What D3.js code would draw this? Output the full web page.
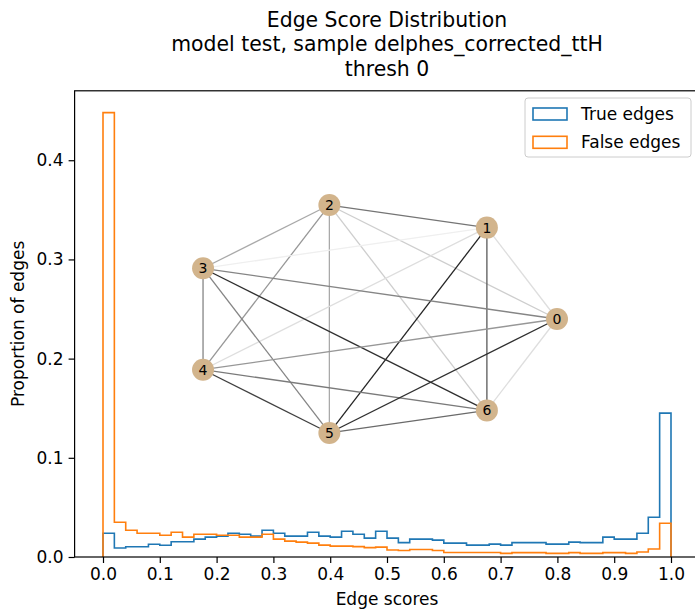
<!DOCTYPE html>
<html>
<head>
<meta charset="utf-8">
<script src="https://cdn.jsdelivr.net/npm/d3@7"></script>
<style>
  html, body { margin: 0; padding: 0; background: #fff; }
  svg { display: block; font-family: "DejaVu Sans", sans-serif; }
</style>
</head>
<body>
<svg id="chart" width="695" height="609"></svg>
<script>
// ---------------- data ----------------
const titleLines = ["Edge Score Distribution", "model test, sample delphes_corrected_ttH", "thresh 0"];
const xLabel = "Edge scores";
const yLabel = "Proportion of edges";
const seriesNames = ["True edges", "False edges"];
const seriesColors = ["#1f77b4", "#ff7f0e"];
const xTicks = [0.0, 0.1, 0.2, 0.3, 0.4, 0.5, 0.6, 0.7, 0.8, 0.9, 1.0];
const yTicks = [0.0, 0.1, 0.2, 0.3, 0.4];
const binCount = 50;

const trueEdges = [
  0.024, 0.009, 0.0104, 0.0104, 0.0128, 0.0118, 0.0154, 0.0154, 0.018, 0.020,
  0.021, 0.024, 0.023, 0.021, 0.027, 0.024, 0.021, 0.021, 0.025, 0.021,
  0.020, 0.026, 0.023, 0.019, 0.026, 0.019, 0.0145, 0.018, 0.018, 0.017,
  0.014, 0.014, 0.012, 0.012, 0.013, 0.012, 0.0145, 0.0145, 0.0145, 0.013,
  0.013, 0.015, 0.0145, 0.0145, 0.020, 0.018, 0.018, 0.024, 0.040, 0.145
];
const falseEdges = [
  0.448, 0.035, 0.027, 0.024, 0.024, 0.022, 0.025, 0.020, 0.023, 0.023,
  0.022, 0.022, 0.020, 0.020, 0.023, 0.018, 0.016, 0.015, 0.014, 0.012,
  0.011, 0.011, 0.0105, 0.0095, 0.010, 0.007, 0.0065, 0.0075, 0.0075, 0.0065,
  0.0045, 0.0045, 0.0045, 0.0045, 0.0045, 0.0037, 0.0044, 0.0044, 0.0044, 0.0037,
  0.0037, 0.0044, 0.0037, 0.0037, 0.0044, 0.0044, 0.0037, 0.005, 0.008, 0.034
];

// example graph (circular layout, complete graph on 7 nodes)
const nodeIds = [0, 1, 2, 3, 4, 5, 6];
const edgeSource = [2, 2, 2, 2, 2, 2, 1, 1, 1, 1, 1, 3, 3, 3, 3, 4, 4, 4, 5, 5, 0];
const edgeTarget = [1, 3, 4, 5, 6, 0, 3, 4, 5, 6, 0, 0, 6, 5, 4, 0, 6, 5, 0, 6, 6];
const edgeScore  = [0.62, 0.44, 0.5, 0.44, 0.3, 0.3, 0.12, 0.22, 0.88, 0.72, 0.22,
                    0.56, 0.85, 0.56, 0.56, 0.5, 0.6, 0.8, 0.85, 0.66, 0.22];

// ---------------- layout ----------------
const svg = d3.select("#chart");
const W = 695, H = 609;
const plot = { left: 74.6, right: 699.4, top: 90.8, bottom: 557 };
const FONT = 17;

const x = d3.scaleLinear().domain([-0.05, 1.05]).range([plot.left, plot.right]);
const y = d3.scaleLinear().domain([0, 0.47]).range([plot.bottom, plot.top]);

// ---------------- histograms (step) ----------------
function stepPoints(vals) {
  const pts = [[0, 0]];
  vals.forEach((v, i) => {
    const x0 = i / binCount, x1 = (i + 1) / binCount;
    pts.push([x0, v]);
    pts.push([x1, v]);
  });
  pts.push([1, 0]);
  return pts;
}
const line = d3.line().x(d => x(d[0])).y(d => y(d[1]));
[trueEdges, falseEdges].forEach((vals, k) => {
  svg.append("path")
    .attr("d", line(stepPoints(vals)))
    .attr("fill", "none")
    .attr("stroke", seriesColors[k])
    .attr("stroke-width", 1.6)
    .attr("stroke-linejoin", "miter");
});

// ---------------- axes ----------------
const xAxis = d3.axisBottom(x).tickValues(xTicks).tickFormat(d3.format(".1f"))
  .tickSize(6).tickPadding(5).tickSizeOuter(0);
const yAxis = d3.axisLeft(y).tickValues(yTicks).tickFormat(d3.format(".1f"))
  .tickSize(6).tickPadding(5).tickSizeOuter(0);

const gx = svg.append("g").attr("transform", `translate(0,${plot.bottom})`).call(xAxis);
const gy = svg.append("g").attr("transform", `translate(${plot.left},0)`).call(yAxis);
[gx, gy].forEach(g => {
  g.select(".domain").remove();
  g.selectAll(".tick line").attr("stroke", "#000").attr("stroke-width", 1.2);
  g.selectAll(".tick text").attr("fill", "#000").style("font-size", FONT + "px")
    .style("font-family", "DejaVu Sans");
});

// spines
svg.append("rect")
  .attr("x", plot.left).attr("y", plot.top)
  .attr("width", plot.right - plot.left).attr("height", plot.bottom - plot.top)
  .attr("fill", "none").attr("stroke", "#000").attr("stroke-width", 1.2);

// ---------------- graph overlay ----------------
const cx = d3.scaleLinear().domain([-1, 1]).range([184.6, 557]);
const cy = d3.scaleLinear().domain([-1, 1]).range([435.9, 202.1]);
const nodes = nodeIds.map(id => {
  const a = 2 * Math.PI * id / nodeIds.length;
  return { id, px: cx(Math.cos(a)), py: cy(Math.sin(a)) };
});
const gray = d3.scaleSequential(d3.interpolateGreys).domain([0, 1]);
const gGraph = svg.append("g");
edgeSource.forEach((s, i) => {
  const a = nodes[s], b = nodes[edgeTarget[i]];
  gGraph.append("line")
    .attr("x1", a.px).attr("y1", a.py).attr("x2", b.px).attr("y2", b.py)
    .attr("stroke", gray(edgeScore[i]))
    .attr("stroke-width", 1.3);
});
gGraph.selectAll("circle.node").data(nodes).enter().append("circle")
  .attr("class", "node")
  .attr("cx", d => d.px).attr("cy", d => d.py).attr("r", 11)
  .attr("fill", "#d2b48c");
gGraph.selectAll("text.nl").data(nodes).enter().append("text")
  .attr("class", "nl")
  .attr("x", d => d.px).attr("y", d => d.py)
  .attr("text-anchor", "middle").attr("dominant-baseline", "central")
  .style("font-size", "14px").attr("fill", "#000")
  .text(d => d.id);

// ---------------- labels ----------------
const titleCenter = (plot.left + plot.right) / 2;
titleLines.forEach((t, i) => {
  svg.append("text")
    .attr("x", titleCenter).attr("y", 26.8 + i * 24.5)
    .attr("text-anchor", "middle")
    .style("font-size", "20.4px").attr("fill", "#000")
    .text(t);
});
svg.append("text")
  .attr("x", titleCenter).attr("y", 605)
  .attr("text-anchor", "middle").style("font-size", FONT + "px").attr("fill", "#000")
  .text(xLabel);
svg.append("text")
  .attr("transform", `translate(24,${(plot.top + plot.bottom) / 2}) rotate(-90)`)
  .attr("text-anchor", "middle").style("font-size", FONT + "px").attr("fill", "#000")
  .text(yLabel);

// ---------------- legend ----------------
const lg = svg.append("g");
lg.append("rect")
  .attr("x", 525).attr("y", 98).attr("width", 166).attr("height", 59)
  .attr("rx", 3).attr("fill", "#fff").attr("fill-opacity", 0.8)
  .attr("stroke", "#cccccc").attr("stroke-width", 1);
seriesNames.forEach((name, i) => {
  const yy = 108 + i * 28.3;
  lg.append("rect")
    .attr("x", 533).attr("y", yy).attr("width", 34).attr("height", 12)
    .attr("fill", "none").attr("stroke", seriesColors[i]).attr("stroke-width", 1.6);
  lg.append("text")
    .attr("x", 581).attr("y", yy + 11.5)
    .style("font-size", FONT + "px").attr("fill", "#000")
    .text(name);
});
</script>
</body>
</html>
